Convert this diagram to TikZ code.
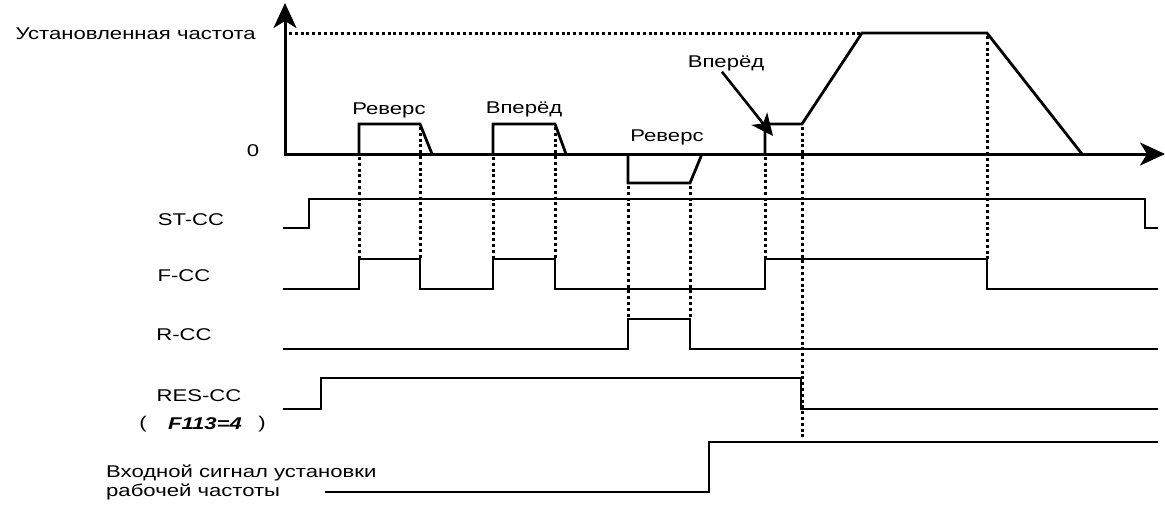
\documentclass[tikz,border=0pt]{standalone}
\usepackage{fontspec}
\newfontfamily\diagfont[FakeStretch=1.3]{Liberation Sans}
\usetikzlibrary{arrows.meta}
\tikzset{
  sig/.style={line width=2.8pt, line join=miter},
  guide/.style={line width=3pt, dash pattern=on 3pt off 2.8pt},
  lbl/.style={font=\diagfont\fontsize{17}{19}\selectfont, inner sep=1pt},
  axisarrow/.style={line width=3pt, -{Stealth[length=25pt,width=23pt,inset=7pt]}},
  pointer/.style={line width=2.6pt, -{Stealth[length=22pt,width=20pt,inset=6pt]}}
}
\begin{document}
\begin{tikzpicture}[x=1pt,y=-1pt]
\useasboundingbox (0,0) rectangle (1165,504);
% axes
\draw[axisarrow] (285,155) -- (285,3);
\draw[axisarrow] (284,154) -- (1165,154);
\draw[guide] (289,33) -- (862,33);
% output frequency
\draw[sig] (359,154) -- (359,124) -- (420,124) -- (432,154);
\draw[sig] (493,154) -- (493,124) -- (555,124) -- (566,154);
\draw[sig] (628,154) -- (628,183) -- (690,183) -- (702,154);
\draw[sig] (765,154) -- (765,124) -- (802,124) -- (862,33) -- (987,33) -- (1082,154);
% signals
\draw[sig] (283,228) -- (309,228) -- (309,199) -- (1145,199) -- (1145,228) -- (1158,228);
\draw[sig] (283,289) -- (359,289) -- (359,259) -- (420,259) -- (420,289) -- (493,289) -- (493,259) -- (555,259) -- (555,289) -- (765,289) -- (765,259) -- (987,259) -- (987,289) -- (1158,289);
\draw[sig] (283,349) -- (628,349) -- (628,319) -- (690,319) -- (690,349) -- (1158,349);
\draw[sig] (283,409) -- (321,409) -- (321,378) -- (801,378) -- (801,409) -- (1158,409);
\draw[sig] (325,492) -- (709,492) -- (709,442) -- (1158,442);
% dotted guides
\draw[guide] (359,157) -- (359,259);
\draw[guide] (420,127) -- (420,259);
\draw[guide] (493,157) -- (493,259);
\draw[guide] (555,127) -- (555,259);
\draw[guide] (628,186) -- (628,319);
\draw[guide] (690,186) -- (690,319);
\draw[guide] (765,157) -- (765,259);
\draw[guide] (802,127) -- (802,437);
\draw[guide] (987,36) -- (987,259);
% labels
\node[lbl, anchor=east] (setfreq) at (257,34) {Установленная частота};
\node[lbl] (zero) at (253,151) {0};
\node[lbl] (rev1) at (389,110) {Реверс};
\node[lbl] (fwd1) at (524,109) {Вперёд};
\node[lbl] (rev2) at (667,137) {Реверс};
\node[lbl] (fwd2) at (726,63) {Вперёд};
\coordinate (fwdtip) at (773,136);
\draw[pointer] ([xshift=-4pt]fwd2.south) -- (fwdtip);
\node[lbl] (stcc) at (191,220) {ST-CC};
\node[lbl] (fcc) at (184,276) {F-CC};
\node[lbl] (rcc) at (184,335) {R-CC};
\node[lbl] (rescc) at (199,396) {RES-CC};
\node[lbl] (lpar) at (143,424) {(};
\node[lbl] (fparam) at (205,424) {\bfseries\itshape F113=4};
\node[lbl] (rpar) at (262,424) {)};
\node[lbl, anchor=west, align=left] (insig) at (105,482) {Входной сигнал установки\\рабочей частоты};
\end{tikzpicture}
\end{document}
